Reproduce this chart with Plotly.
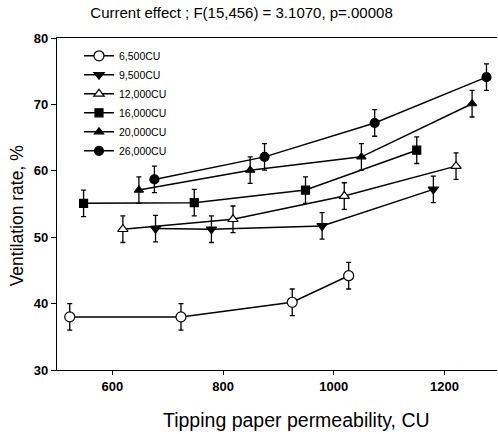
import plotly.graph_objects as go

# ---- data ----
series_names = ["6,500CU", "9,500CU", "12,000CU", "16,000CU", "20,000CU", "26,000CU"]

x_6500 = [523, 724, 925, 1027]
y_6500 = [38.0, 38.0, 40.2, 44.2]

x_9500 = [678, 779, 979, 1180]
y_9500 = [51.3, 51.2, 51.7, 57.2]

x_12000 = [619, 818, 1019, 1221]
y_12000 = [51.2, 52.7, 56.2, 60.7]

x_16000 = [548, 748, 949, 1150]
y_16000 = [55.1, 55.2, 57.1, 63.1]

x_20000 = [648, 849, 1050, 1250]
y_20000 = [57.1, 60.1, 62.1, 70.1]

x_26000 = [676, 875, 1074, 1276]
y_26000 = [58.7, 62.1, 67.2, 74.1]

err = 2.0  # +/- error bar half-length

x_ticks = [600, 800, 1000, 1200]
y_ticks = [30, 40, 50, 60, 70, 80]

styles = [
    ("circle", "white"),
    ("triangle-down", "black"),
    ("triangle-up", "white"),
    ("square", "black"),
    ("triangle-up", "black"),
    ("circle", "black"),
]
sizes = [10, 9, 9, 8, 8, 9]

xs = [x_6500, x_9500, x_12000, x_16000, x_20000, x_26000]
ys = [y_6500, y_9500, y_12000, y_16000, y_20000, y_26000]

FONT = "Liberation Sans, Arial, sans-serif"

fig = go.Figure()
for name, x, y, (sym, fill), sz in zip(series_names, xs, ys, styles, sizes):
    fig.add_trace(go.Scatter(
        x=x, y=y, name=name, mode="lines+markers",
        line=dict(color="black", width=1.5),
        marker=dict(symbol=sym, color=fill, size=sz,
                    line=dict(color="black", width=1.2)),
        error_y=dict(type="constant", value=err, color="black",
                     thickness=1.3, width=2.5),
    ))

fig.update_layout(
    width=498, height=434,
    margin=dict(l=57, r=1, t=38, b=64),
    paper_bgcolor="white", plot_bgcolor="white",
    font=dict(family=FONT, color="black"),
    title=dict(text="Current effect ; F(15,456) = 3.1070, p=.00008",
               x=0.485, xref="container", xanchor="center",
               y=0.970, yref="container", yanchor="middle",
               font=dict(size=15, color="black", family=FONT)),
    showlegend=True,
    legend=dict(x=0.05, y=0.99, xanchor="left", yanchor="top",
                bgcolor="rgba(0,0,0,0)", font=dict(size=10.5, family=FONT),
                tracegroupgap=0, itemwidth=30),
)

fig.update_xaxes(
    range=[500, 1295], tickvals=x_ticks, ticks="outside", ticklen=4,
    tickwidth=1, tickcolor="black",
    showline=True, linecolor="black", linewidth=1.2, mirror=True,
    showgrid=False, zeroline=False,
    tickfont=dict(size=13, family=FONT, color="black", weight="bold"),
)
fig.update_yaxes(
    range=[30, 80], tickvals=y_ticks, ticks="outside", ticklen=5,
    tickwidth=1, tickcolor="black",
    showline=True, linecolor="black", linewidth=1.2,
    showgrid=False, zeroline=False,
    tickfont=dict(size=13, family=FONT, color="black", weight="bold"),
)

fig.add_annotation(text="Tipping paper permeability, CU", xref="paper", yref="paper",
                   x=0.545, y=-0.15, xanchor="center", yanchor="middle",
                   showarrow=False, font=dict(size=19.5, family=FONT, color="black"))
fig.add_annotation(text="Ventilation rate, %", xref="paper", yref="paper",
                   x=-0.09, y=0.464, xanchor="center", yanchor="middle",
                   textangle=-90, showarrow=False,
                   font=dict(size=17.5, family=FONT, color="black"))

fig.write_html("out.html")
